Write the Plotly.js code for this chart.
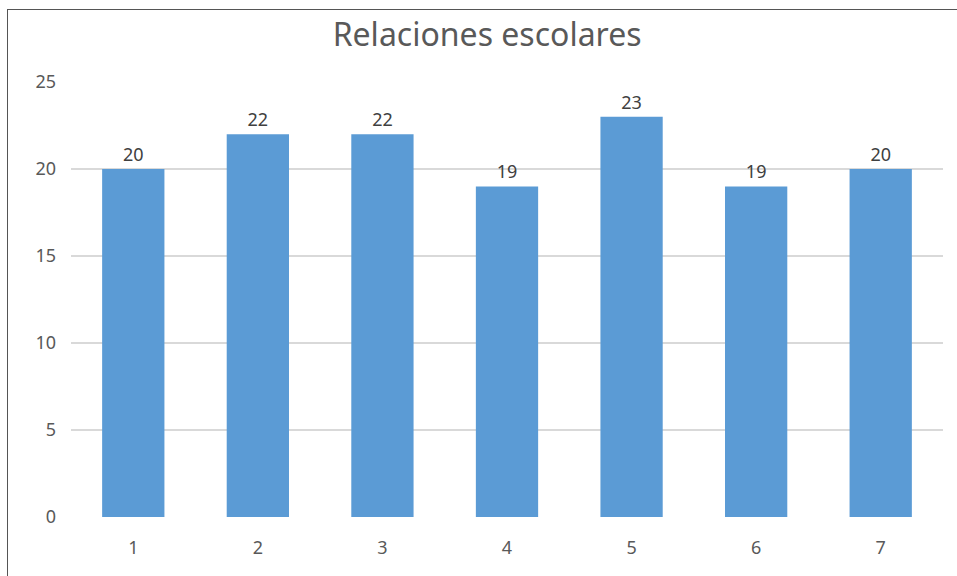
<!DOCTYPE html>
<html>
<head>
<meta charset="utf-8">
<script src="https://cdn.plot.ly/plotly-3.0.1.min.js"></script>
<style>
html,body{margin:0;padding:0;background:#fff;}
#wrap{position:relative;width:957px;height:576px;overflow:hidden;}
#chart{position:absolute;left:0;top:0;width:957px;height:576px;}
#frame{position:absolute;left:7px;top:9px;width:960px;height:580px;border-top:1px solid #555;border-left:1px solid #555;pointer-events:none;}
</style>
</head>
<body>
<div id="wrap"><div id="chart"></div><div id="frame"></div></div>
<script>
const categories = ["1","2","3","4","5","6","7"];
const values = [20, 22, 22, 19, 23, 19, 20];
const yTicks = [0, 5, 10, 15, 20, 25];
const chartTitle = "Relaciones escolares";

const trace = {
  type: "bar",
  x: categories,
  y: values,
  text: values.map(String),
  textposition: "outside",
  cliponaxis: false,
  textfont: {family: "Noto Sans, Open Sans, sans-serif", size: 18, color: "#404040"},
  marker: {color: "#5B9BD5"},
  hoverinfo: "none"
};

const layout = {
  width: 957, height: 576,
  margin: {l: 71, r: 14, t: 82, b: 59},
  paper_bgcolor: "#ffffff",
  plot_bgcolor: "#ffffff",
  bargap: 0.5,
  showlegend: false,
  title: {
    text: chartTitle,
    font: {family: "Noto Sans, Open Sans, sans-serif", size: 32, color: "#595959"},
    xref: "container", x: 0.509, xanchor: "center", y: 0.94, yanchor: "middle"
  },
  xaxis: {
    type: "category",
    showgrid: false, zeroline: false, showline: false,
    ticks: "",
    tickfont: {family: "Noto Sans, Open Sans, sans-serif", size: 18, color: "#595959"},
    ticklabelstandoff: 18
  },
  yaxis: {
    range: [0, 25],
    tickvals: yTicks,
    showgrid: true, gridcolor: "#D9D9D9", gridwidth: 1.5,
    zeroline: false, showline: false, ticks: "",
    tickfont: {family: "Noto Sans, Open Sans, sans-serif", size: 18, color: "#595959"},
    ticklabelstandoff: 14
  }
};

Plotly.newPlot("chart", [trace], layout, {displayModeBar: false, staticPlot: true});
</script>
</body>
</html>
